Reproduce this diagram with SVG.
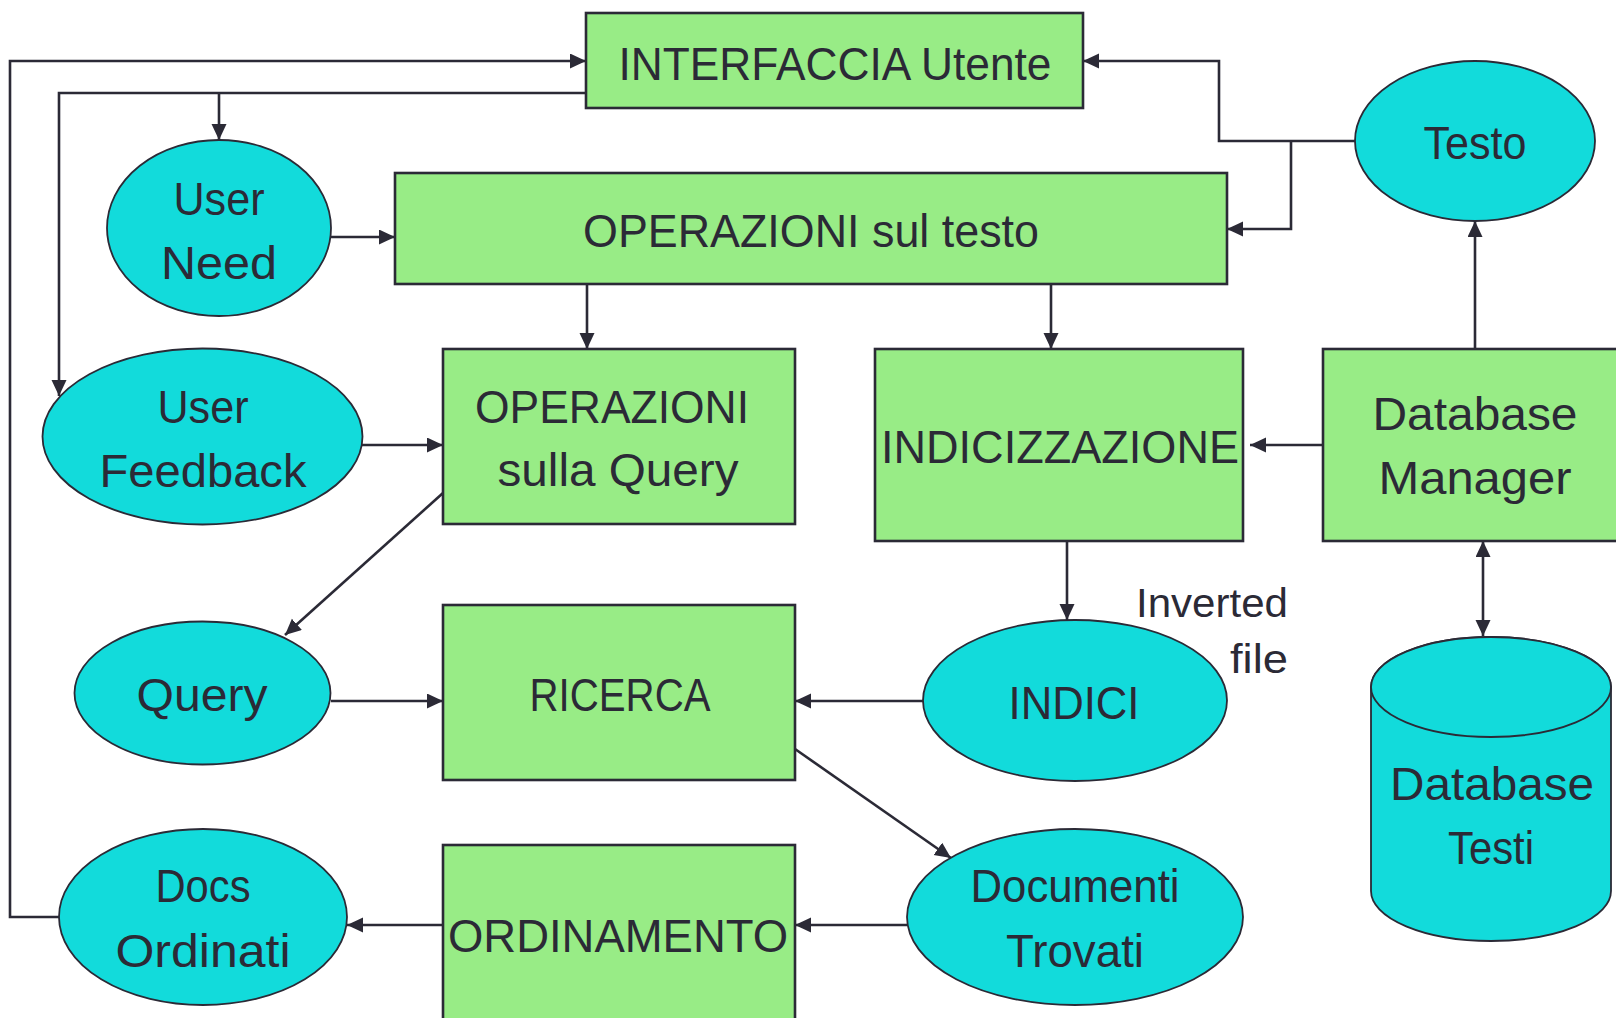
<svg xmlns="http://www.w3.org/2000/svg" width="1616" height="1018" viewBox="0 0 1616 1018">
<style>
.box{fill:#98EC86;stroke:#2b2a36;stroke-width:2.6}
.ell{fill:#12DBDB;stroke:#2b2a36;stroke-width:1.8}
.t{font-family:"Liberation Sans",Arial,sans-serif;font-size:46px;fill:#2b2a36;text-anchor:middle}
.s{font-family:"Liberation Sans",Arial,sans-serif;font-size:40px;fill:#2b2a36;text-anchor:end}
.c{fill:none;stroke:#2b2a36;stroke-width:2.6}
</style>
<defs>
<marker id="ah" markerUnits="userSpaceOnUse" markerWidth="17" markerHeight="16" refX="16" refY="7.5" orient="auto-start-reverse">
<path d="M0,0 L16,7.5 L0,15 Z" fill="#2b2a36"/>
</marker>
</defs>
<rect width="1616" height="1018" fill="#ffffff"/>
<g id="connectors">
<path class="c" d="M59 917 H10 V61 H586" marker-end="url(#ah)"/>
<path class="c" d="M586 93 H59 V396" marker-end="url(#ah)"/>
<path class="c" d="M219 93 V140" marker-end="url(#ah)"/>
<path class="c" d="M331 237 H395" marker-end="url(#ah)"/>
<path class="c" d="M1355 141 H1219 V61 H1083" marker-end="url(#ah)"/>
<path class="c" d="M1291 141 V229 H1227" marker-end="url(#ah)"/>
<path class="c" d="M1475 349 V221" marker-end="url(#ah)"/>
<path class="c" d="M587 284 V349" marker-end="url(#ah)"/>
<path class="c" d="M1051 284 V349" marker-end="url(#ah)"/>
<path class="c" d="M362 445 H443" marker-end="url(#ah)"/>
<path class="c" d="M443 493 L285 635" marker-end="url(#ah)"/>
<path class="c" d="M331 701 H443" marker-end="url(#ah)"/>
<path class="c" d="M1323 445 H1250" marker-end="url(#ah)"/>
<path class="c" d="M1067 541 V620" marker-end="url(#ah)"/>
<path class="c" d="M1483 541 V636" marker-start="url(#ah)" marker-end="url(#ah)"/>
<path class="c" d="M923 701 H795" marker-end="url(#ah)"/>
<path class="c" d="M795 749 L951 858" marker-end="url(#ah)"/>
<path class="c" d="M907 925 H795" marker-end="url(#ah)"/>
<path class="c" d="M443 925 H347" marker-end="url(#ah)"/>
</g>
<g id="interfaccia">
<rect class="box" x="586" y="13" width="497" height="95"/>
<text class="t" x="835" y="80" textLength="433" lengthAdjust="spacingAndGlyphs">INTERFACCIA Utente</text>
</g>
<g id="testo">
<ellipse class="ell" cx="1475" cy="141" rx="120" ry="80"/>
<text class="t" x="1475" y="159" textLength="103" lengthAdjust="spacingAndGlyphs">Testo</text>
</g>
<g id="operazioni-testo">
<rect class="box" x="395" y="173" width="832" height="111"/>
<text class="t" x="811" y="247" textLength="456" lengthAdjust="spacingAndGlyphs">OPERAZIONI sul testo</text>
</g>
<g id="user-need">
<ellipse class="ell" cx="219" cy="228" rx="112" ry="88"/>
<text class="t" x="219" y="215" textLength="91" lengthAdjust="spacingAndGlyphs">User</text>
<text class="t" x="219" y="279" textLength="116" lengthAdjust="spacingAndGlyphs">Need</text>
</g>
<g id="user-feedback">
<ellipse class="ell" cx="202.5" cy="436.5" rx="160" ry="88"/>
<text class="t" x="203" y="423" textLength="91" lengthAdjust="spacingAndGlyphs">User</text>
<text class="t" x="203" y="487" textLength="207" lengthAdjust="spacingAndGlyphs">Feedback</text>
</g>
<g id="operazioni-query">
<rect class="box" x="443" y="349" width="352" height="175"/>
<text class="t" x="612" y="423" textLength="274" lengthAdjust="spacingAndGlyphs">OPERAZIONI</text>
<text class="t" x="618" y="486" textLength="241" lengthAdjust="spacingAndGlyphs">sulla Query</text>
</g>
<g id="indicizzazione">
<rect class="box" x="875" y="349" width="368" height="192"/>
<text class="t" x="1060" y="463" textLength="358" lengthAdjust="spacingAndGlyphs">INDICIZZAZIONE</text>
</g>
<g id="database-manager">
<rect class="box" x="1323" y="349" width="310" height="192"/>
<text class="t" x="1475" y="430" textLength="205" lengthAdjust="spacingAndGlyphs">Database</text>
<text class="t" x="1475" y="494" textLength="193" lengthAdjust="spacingAndGlyphs">Manager</text>
</g>
<g id="query">
<ellipse class="ell" cx="202.5" cy="693" rx="128" ry="71.5"/>
<text class="t" x="202" y="711" textLength="131" lengthAdjust="spacingAndGlyphs">Query</text>
</g>
<g id="ricerca">
<rect class="box" x="443" y="605" width="352" height="175"/>
<text class="t" x="620" y="711" textLength="181" lengthAdjust="spacingAndGlyphs">RICERCA</text>
</g>
<g id="indici">
<ellipse class="ell" cx="1075" cy="700.5" rx="152" ry="80.5"/>
<text class="t" x="1074" y="719" textLength="131" lengthAdjust="spacingAndGlyphs">INDICI</text>
</g>
<g id="inverted-file-label">
<text class="s" x="1288" y="617" textLength="152" lengthAdjust="spacingAndGlyphs">Inverted</text>
<text class="s" x="1288" y="673" textLength="58" lengthAdjust="spacingAndGlyphs">file</text>
</g>
<g id="database-testi">
<path class="ell" d="M1371 687 V891 A120 50 0 0 0 1611 891 V687 A120 50 0 0 0 1371 687 Z"/>
<ellipse class="ell" cx="1491" cy="687" rx="120" ry="50"/>
<text class="t" x="1492" y="800" textLength="204" lengthAdjust="spacingAndGlyphs">Database</text>
<text class="t" x="1491" y="864" textLength="86" lengthAdjust="spacingAndGlyphs">Testi</text>
</g>
<g id="documenti-trovati">
<ellipse class="ell" cx="1075" cy="917" rx="168" ry="88"/>
<text class="t" x="1075" y="902" textLength="209" lengthAdjust="spacingAndGlyphs">Documenti</text>
<text class="t" x="1075" y="967" textLength="138" lengthAdjust="spacingAndGlyphs">Trovati</text>
</g>
<g id="ordinamento">
<rect class="box" x="443" y="845" width="352" height="190"/>
<text class="t" x="618" y="952" textLength="340" lengthAdjust="spacingAndGlyphs">ORDINAMENTO</text>
</g>
<g id="docs-ordinati">
<ellipse class="ell" cx="203" cy="917" rx="144" ry="88"/>
<text class="t" x="203" y="902" textLength="95" lengthAdjust="spacingAndGlyphs">Docs</text>
<text class="t" x="203" y="967" textLength="175" lengthAdjust="spacingAndGlyphs">Ordinati</text>
</g>
</svg>
